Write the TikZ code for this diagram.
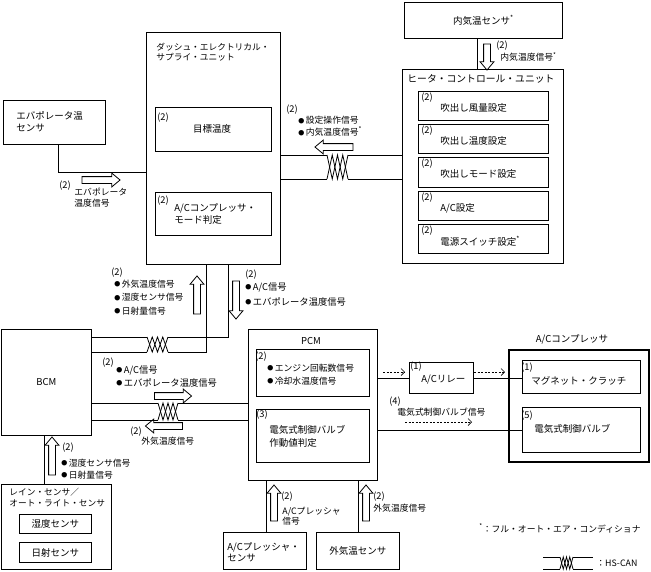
\documentclass[tikz,border=0pt]{standalone}
\usepackage{fontspec}
\setmainfont{Noto Sans CJK JP}
\usetikzlibrary{shapes.arrows,arrows.meta}
\newcommand\mainsz{\fontsize{9.5}{12}\selectfont}
\newcommand\smallsz{\fontsize{8.8}{12}\selectfont}
\newcommand\autonote{\textsuperscript{*}}
\newcommand\dotmark{\raisebox{0.6pt}{\fontsize{6}{6}\selectfont ●}\,}
\newcommand\twist[4]{% x0, x1, upper wire, lower wire
  \pgfmathsetmacro\twstep{(#2-#1)/4}
  \draw (#1,#3) -- ({#1+\twstep},#4) -- ({#1+2*\twstep},#3) -- ({#1+3*\twstep},#4) -- (#2,#3);
  \draw (#1,#4) -- ({#1+\twstep},#3) -- ({#1+2*\twstep},#4) -- ({#1+3*\twstep},#3) -- (#2,#4);}
\tikzset{
  box/.style={draw, line width=0.8pt, anchor=north west, inner sep=0pt, font=\mainsz},
  lbl/.style={anchor=north west, inner sep=0pt, align=left, font=\smallsz},
  num/.style={inner sep=0pt, font=\fontsize{9.3}{10}\selectfont},
  fat/.style={draw, line width=0.8pt, single arrow, minimum width=13pt, single arrow head extend=3.5pt,
    single arrow tip angle=80, single arrow head indent=0pt, inner xsep=0pt, inner ysep=3pt},
  sig/.style={line width=0.7pt, dash pattern=on 2pt off 1.5pt, -{Straight Barb[length=3.5pt,width=7pt]}}
}
\begin{document}
\begin{tikzpicture}[x=1pt, y=-1pt, line width=0.8pt]
		%%%%% START %%%%%
		\useasboundingbox (0,0) rectangle (651,571);
		
		\node[box, minimum width=158pt, minimum height=36pt] (inside) at (404,2) {内気温センサ\autonote};
		\draw (inside.south -| 477,0) -- (477,69);
		\node[fat, minimum height=26pt, rotate=-90] (inarr) at (487,55) {};
		\node[num] (innum) at (502,46) {(2)};
		\node[lbl, anchor=west] (insig) at (500,57) {内気温度信号\autonote};
		
		\node[box, minimum width=161pt, minimum height=194pt] (hcu) at (402,69) {};
		\node[lbl, anchor=west, font=\fontsize{9.8}{12}\selectfont] (hcut) at (407,79) {ヒータ・コントロール・ユニット};
		\node[box, minimum width=130pt, minimum height=29pt] (hb1) at (418,91) {};
		\node[num] at (427,98) {(2)};
		\node[lbl, anchor=west, font=\mainsz] (hb1t) at (440,108) {吹出し風量設定};
		\node[box, minimum width=130pt, minimum height=29pt] (hb2) at (418,124) {};
		\node[num] at (427,131) {(2)};
		\node[lbl, anchor=west, font=\mainsz] (hb2t) at (440,141) {吹出し温度設定};
		\node[box, minimum width=130pt, minimum height=30pt] (hb3) at (418,157) {};
		\node[num] at (427,164) {(2)};
		\node[lbl, anchor=west, font=\mainsz] (hb3t) at (440,174) {吹出しモード設定};
		\node[box, minimum width=130pt, minimum height=29pt] (hb4) at (418,191) {};
		\node[num] at (427,198) {(2)};
		\node[lbl, anchor=west, font=\mainsz] (hb4t) at (440,208) {A/C設定};
		\node[box, minimum width=130pt, minimum height=29pt] (hb5) at (418,224) {};
		\node[num] at (427,231) {(2)};
		\node[lbl, anchor=west, font=\mainsz] (hb5t) at (440,241) {電源スイッチ設定\autonote};
		
		\node[box, minimum width=134pt, minimum height=232pt] (dsu) at (146,32) {};
		\node[lbl, font=\fontsize{8.7}{10.5}\selectfont] (dsut) at (156,42.5) {ダッシュ・エレクトリカル・\\サプライ・ユニット};
		\node[box, minimum width=116pt, minimum height=44pt] (target) at (155,107) {};
		\node[num] at (163,118) {(2)};
		\node[inner sep=0pt, font=\mainsz] (targett) at (212,129) {目標温度};
		\node[box, minimum width=116pt, minimum height=43pt] (acmode) at (155,192) {};
		\node[num] at (163,201) {(2)};
		\node[lbl, font=\mainsz] (acmodet) at (174,203.5) {A/Cコンプレッサ・\\モード判定};
		
		\node[box, minimum width=102pt, minimum height=44pt] (evap) at (3,100) {};
		\node[lbl, font=\fontsize{9.5}{11.5}\selectfont] (evapt) at (16,111.5) {エバポレータ温\\センサ};
		\draw (evap.south -| 58,0) |- (dsu.west |- 0,172);
		\node[fat, minimum height=38pt] (evarr) at (99,180) {};
		\node[num] (evnum) at (65,186) {(2)};
		\node[lbl, font=\fontsize{8.8}{11}\selectfont] (evsig) at (74,187.5) {エバポレータ\\温度信号};
		
		% HS-CAN dsu - hcu
		\draw (dsu.east |- 0,155) -- (327,155);
		\draw (348,155) -- (hcu.west |- 0,155);
		\draw (dsu.east |- 0,179) -- (327,179);
		\draw (348,179) -- (hcu.west |- 0,179);
		\twist{327}{348}{155}{179}
		\node[fat, minimum height=38pt, rotate=180] (hcarr) at (336,147) {};
		\node[num] (hcnum) at (292,110) {(2)};
		\node[lbl] (hcsig) at (298,116) {\dotmark 設定操作信号\\\dotmark 内気温度信号\autonote};
		
		\node[box, minimum width=90pt, minimum height=106pt] (bcm) at (1,329) {BCM};
		
		% HS-CAN bcm - dsu
		\draw (bcm.east |- 0,337) -- (147,337);
		\draw (168,337) -| (dsu.south -| 228,0);
		\draw (bcm.east |- 0,352) -- (147,352);
		\draw (168,352) -| (dsu.south -| 206,0);
		\twist{147}{168}{337}{352}
		\node[fat, minimum height=38pt, rotate=90] (uparr) at (197,297) {};
		\node[num] (upnum) at (117,273) {(2)};
		\node[lbl, font=\fontsize{8.8}{13.5}\selectfont] (upsig) at (114,279.5) {\dotmark 外気温度信号\\\dotmark 湿度センサ信号\\\dotmark 日射量信号};
		\node[fat, minimum height=38pt, rotate=-90] (dnarr) at (236,298) {};
		\node[num] (dnnum) at (251,275) {(2)};
		\node[lbl, font=\fontsize{9.3}{15}\selectfont] (dnsig) at (245,282) {\dotmark A/C信号\\\dotmark エバポレータ温度信号};
		
		\node[box, minimum width=129pt, minimum height=151pt] (pcm) at (248,329) {};
		\node[inner sep=0pt, font=\mainsz] (pcmt) at (311,341) {PCM};
		\node[box, minimum width=113pt, minimum height=47pt] (p1) at (256,349) {};
		\node[num] at (261,357) {(2)};
		\node[lbl, font=\fontsize{8.8}{13}\selectfont] (p1t) at (267,363.5) {\dotmark エンジン回転数信号\\\dotmark 冷却水温度信号};
		\node[box, minimum width=113pt, minimum height=53pt] (p2) at (256,409) {};
		\node[num] at (262,415) {(3)};
		\node[lbl, font=\fontsize{9.5}{13}\selectfont] (p2t) at (269,425) {電気式制御バルブ\\作動値判定};
		
		% HS-CAN bcm - pcm
		\draw (bcm.east |- 0,403) -- (158,403);
		\draw (178,403) -- (pcm.west |- 0,403);
		\draw (bcm.east |- 0,420) -- (158,420);
		\draw (178,420) -- (pcm.west |- 0,420);
		\twist{158}{178}{403}{420}
		\node[num] (bpnum) at (108,363) {(2)};
		\node[lbl, font=\fontsize{9.3}{13}\selectfont] (bpsig) at (116,365) {\dotmark A/C信号\\\dotmark エバポレータ温度信号};
		\node[fat, minimum height=37pt] (bparr) at (171,396) {};
		\node[fat, minimum height=37pt, rotate=180] (pbarr) at (166,426) {};
		\node[num] (pbnum) at (136,432) {(2)};
		\node[lbl, anchor=west] (pbsig) at (141,441) {外気温度信号};
		
		\node[box, minimum width=64pt, minimum height=31pt] (relay) at (409,362) {};
		\node[num] at (416,367) {(1)};
		\node[lbl, anchor=west, font=\mainsz] (relayt) at (421,380) {A/Cリレー};
		\draw (pcm.east |- 0,378) -- (relay.west |- 0,378);
		\draw[sig] (383,372) -- (405,372);
		
		\node[box, minimum width=140pt, minimum height=112pt, line width=1.6pt] (comp) at (508,349) {};
		\node[inner sep=0pt, font=\mainsz] (compt) at (572,339) {A/Cコンプレッサ};
		\node[box, minimum width=118pt, minimum height=33pt] (clutch) at (522,360) {};
		\node[num] at (527,368) {(1)};
		\node[lbl, anchor=west, font=\mainsz] (clutcht) at (531,381) {マグネット・クラッチ};
		\node[box, minimum width=118pt, minimum height=45pt] (valve) at (522,407) {};
		\node[num] at (527,416) {(5)};
		\node[lbl, anchor=west, font=\mainsz] (valvet) at (534,429) {電気式制御バルブ};
		\draw (relay.east |- 0,378) -- (clutch.west |- 0,378);
		\draw[sig] (474,372) -- (505,372);
		\draw (pcm.east |- 0,430) -- (valve.west |- 0,430);
		\draw[sig] (405,422) -- (472,422);
		\node[num] (vnum) at (395,402) {(4)};
		\node[lbl, anchor=west] (vsig) at (397,412) {電気式制御バルブ信号};
		
		\node[box, minimum width=110pt, minimum height=85pt] (rain) at (1,484) {};
		\node[lbl, font=\fontsize{8.7}{11}\selectfont] (raint) at (9,487.5) {レイン・センサ／\\オート・ライト・センサ};
		\node[box, minimum width=72pt, minimum height=19pt] (hum) at (19,514) {湿度センサ};
		\node[box, minimum width=72pt, minimum height=20pt] (sun) at (19,542) {日射センサ};
		\draw (bcm.south -| 44,0) -- (rain.north -| 44,0);
		\node[fat, minimum height=38pt, rotate=90] (rnarr) at (52,458) {};
		\node[num] (rnnum) at (68,448) {(2)};
		\node[lbl, font=\fontsize{8.8}{12}\selectfont] (rnsig) at (61,458.5) {\dotmark 湿度センサ信号\\\dotmark 日射量信号};
		
		\node[box, minimum width=83pt, minimum height=37pt] (acp) at (223,532) {};
		\node[lbl, font=\fontsize{9.5}{11}\selectfont] (acpt) at (227,542) {A/Cプレッシャ・\\センサ};
		\node[box, minimum width=83pt, minimum height=37pt] (amb) at (316,532) {外気温センサ};
		\draw (acp.north -| 266,0) -- (pcm.south -| 266,0);
		\draw (amb.north) -- (amb.north |- pcm.south);
		\node[fat, minimum height=36pt, rotate=90] (acparr) at (274,505) {};
		\node[num] (acpnum) at (287,497) {(2)};
		\node[lbl, font=\fontsize{8.8}{10.5}\selectfont] (acpsig) at (282,506.5) {A/Cプレッシャ\\信号};
		\node[fat, minimum height=36pt, rotate=90] (ambarr) at (366,505) {};
		\node[num] (ambnum) at (379,497) {(2)};
		\node[lbl, anchor=west] (ambsig) at (373,508) {外気温度信号};
		
		\node[lbl, anchor=west] (note) at (479,528) {\autonote：フル・オート・エア・コンディショナ};
		\draw (543,557) -- (560,557);
		\draw (573,557) -- (593,557);
		\draw (543,569) -- (560,569);
		\draw (573,569) -- (593,569);
		\twist{560}{573}{557}{569}
		\node[lbl, anchor=west] (legend) at (596,563) {：HS-CAN};
		%%%%% END %%%%%
\end{tikzpicture}
\end{document}
